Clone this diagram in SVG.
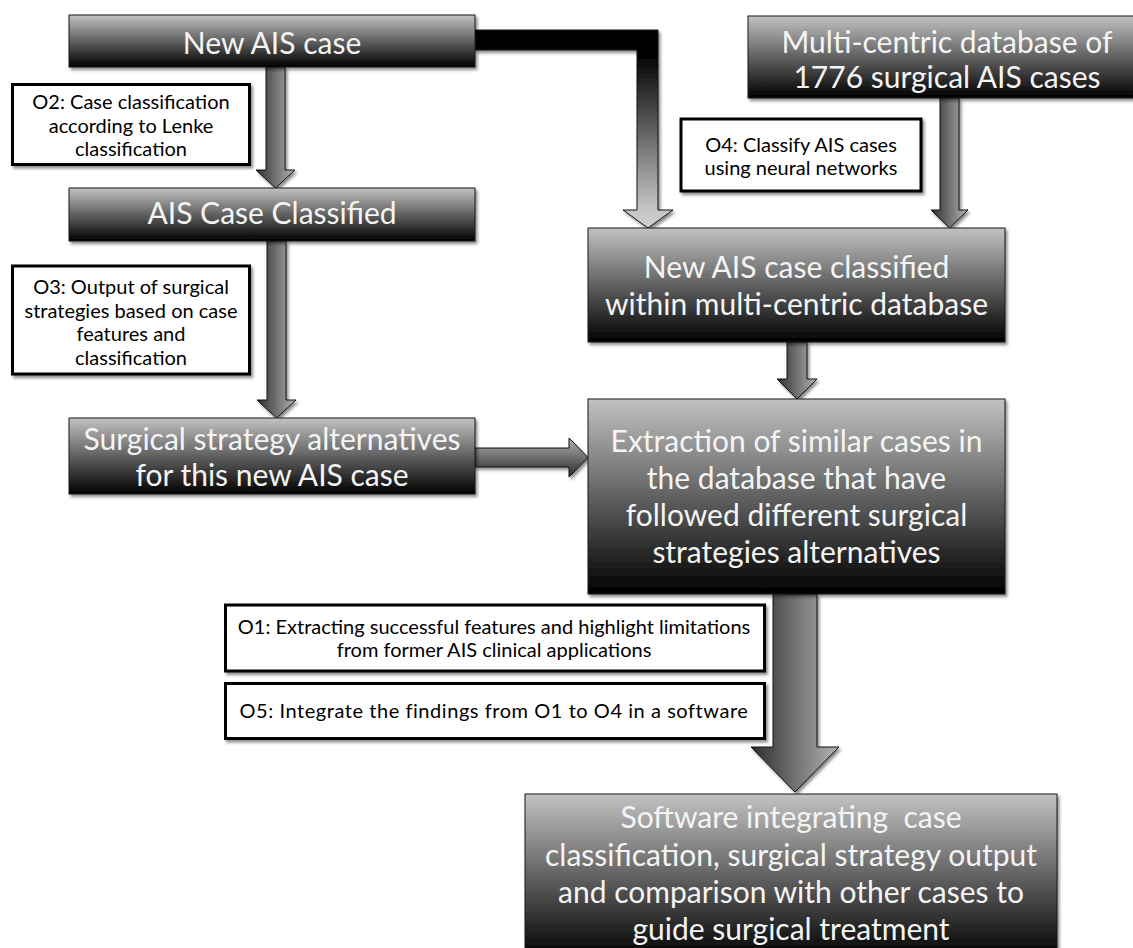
<svg xmlns="http://www.w3.org/2000/svg" width="1133" height="948" viewBox="0 0 1133 948">
<defs>
<linearGradient id="boxg" x1="0" y1="0" x2="0" y2="1">
<stop offset="0" stop-color="#c2c2c2"/>
<stop offset="1" stop-color="#000"/>
</linearGradient>
<linearGradient id="arrh" x1="0" y1="0" x2="1" y2="0">
<stop offset="0" stop-color="#2e2e2e"/>
<stop offset="1" stop-color="#b4b4b4"/>
</linearGradient>
<linearGradient id="arrv" x1="0" y1="0" x2="0" y2="1">
<stop offset="0" stop-color="#b0b0b0"/>
<stop offset="1" stop-color="#2a2a2a"/>
</linearGradient>
<linearGradient id="bentg" x1="0" y1="0" x2="0" y2="1">
<stop offset="0" stop-color="#000"/>
<stop offset="0.12" stop-color="#000"/>
<stop offset="0.9" stop-color="#c4c4c4"/>
<stop offset="1" stop-color="#cfcfcf"/>
</linearGradient>
<filter id="sh" x="-10%" y="-10%" width="130%" height="140%">
<feDropShadow dx="2" dy="2.5" stdDeviation="1.5" flood-color="#000" flood-opacity="0.45"/>
</filter>
</defs>
<style>
.box{fill:url(#boxg);stroke:#1a1a1a;stroke-width:1;filter:url(#sh)}
.lbl{fill:#fff;stroke:#000;stroke-width:3;filter:url(#sh)}
.arr{stroke:#111;stroke-width:1;filter:url(#sh)}
.bt{font-family:Lato,"Liberation Sans",sans-serif;font-size:30px;fill:#f4f4f4;text-anchor:middle}
.lt{font-family:Lato,"Liberation Sans",sans-serif;font-size:20px;fill:#000;text-anchor:middle}
</style>
<rect width="1133" height="948" fill="#fff"/>

<g id="connectors">
<path class="arr" fill="url(#arrh)" d="M266,67 H285 V170 H295 L275.5,188 L256,170 H266 Z"/>
<path class="arr" fill="url(#arrh)" d="M267,241 H286 V400 H296 L276.5,418 L257,400 H267 Z"/>
<path class="arr" fill="url(#arrv)" d="M475,448 H569 V438 L588,457.5 L569,477 V467 H475 Z"/>
<path class="arr" fill="url(#bentg)" d="M475,30 H658 V210 H673 L648,228 L623,210 H637 V50 H475 Z"/>
<path class="arr" fill="url(#arrh)" d="M940,98 H959 V210 H968 L949.5,228 L931,210 H940 Z"/>
<path class="arr" fill="url(#arrh)" d="M787,342 H807 V379 H817 L797,399 L777,379 H787 Z"/>
<path class="arr" fill="url(#arrh)" d="M773,594 H817 V747 H839 L795,792 L751,747 H773 Z"/>
</g>

<g id="n-new-ais">
<rect class="box" x="69" y="15" width="406" height="52"/>
<text class="bt" x="272" y="54">New AIS case</text>
</g>
<g id="n-o2">
<rect class="lbl" x="12.5" y="84.5" width="237" height="80"/>
<text class="lt" x="131" y="109">O2: Case classification</text>
<text class="lt" x="131" y="132.5">according to Lenke</text>
<text class="lt" x="131" y="156">classification</text>
</g>
<g id="n-classified">
<rect class="box" x="69" y="188" width="406" height="53"/>
<text class="bt" x="272" y="224">AIS Case Classified</text>
</g>
<g id="n-o3">
<rect class="lbl" x="12.5" y="266" width="237" height="108"/>
<text class="lt" x="131" y="294">O3: Output of surgical</text>
<text class="lt" x="131" y="317.5">strategies based on case</text>
<text class="lt" x="131" y="341">features and</text>
<text class="lt" x="131" y="364.5">classification</text>
</g>
<g id="n-surgical">
<rect class="box" x="69" y="418" width="406" height="76"/>
<text class="bt" x="272" y="450">Surgical strategy alternatives</text>
<text class="bt" x="272" y="486">for this new AIS case</text>
</g>
<g id="n-multi">
<rect class="box" x="748" y="16" width="400" height="82"/>
<text class="bt" x="947" y="53">Multi-centric database of</text>
<text class="bt" x="947" y="88">1776 surgical AIS cases</text>
</g>
<g id="n-o4">
<rect class="lbl" x="681" y="119" width="240" height="72"/>
<text class="lt" x="801" y="151.5">O4: Classify AIS cases</text>
<text class="lt" x="801" y="175">using neural networks</text>
</g>
<g id="n-classified-db">
<rect class="box" x="588" y="228" width="417" height="114"/>
<text class="bt" x="796.5" y="278">New AIS case classified</text>
<text class="bt" x="796.5" y="315">within multi-centric database</text>
</g>
<g id="n-extraction">
<rect class="box" x="588" y="399" width="417" height="195"/>
<text class="bt" x="796.5" y="452">Extraction of similar cases in</text>
<text class="bt" x="796.5" y="489">the database that have</text>
<text class="bt" x="796.5" y="526">followed different surgical</text>
<text class="bt" x="796.5" y="563">strategies alternatives</text>
</g>
<g id="n-o1">
<rect class="lbl" x="225.5" y="605" width="539" height="66"/>
<text class="lt" x="494" y="634">O1: Extracting successful features and highlight limitations</text>
<text class="lt" x="494" y="657">from former AIS clinical applications</text>
</g>
<g id="n-o5">
<rect class="lbl" x="225.5" y="683.5" width="539" height="55"/>
<text class="lt" x="494" y="718" style="letter-spacing:0.55px">O5: Integrate the findings from O1 to O4 in a software</text>
</g>
<g id="n-software">
<rect class="box" x="525" y="794" width="532" height="166"/>
<text class="bt" x="791" y="828" xml:space="preserve">Software integrating  case</text>
<text class="bt" x="791" y="866">classification, surgical strategy output</text>
<text class="bt" x="791" y="903">and comparison with other cases to</text>
<text class="bt" x="791" y="940">guide surgical treatment</text>
</g>
</svg>
